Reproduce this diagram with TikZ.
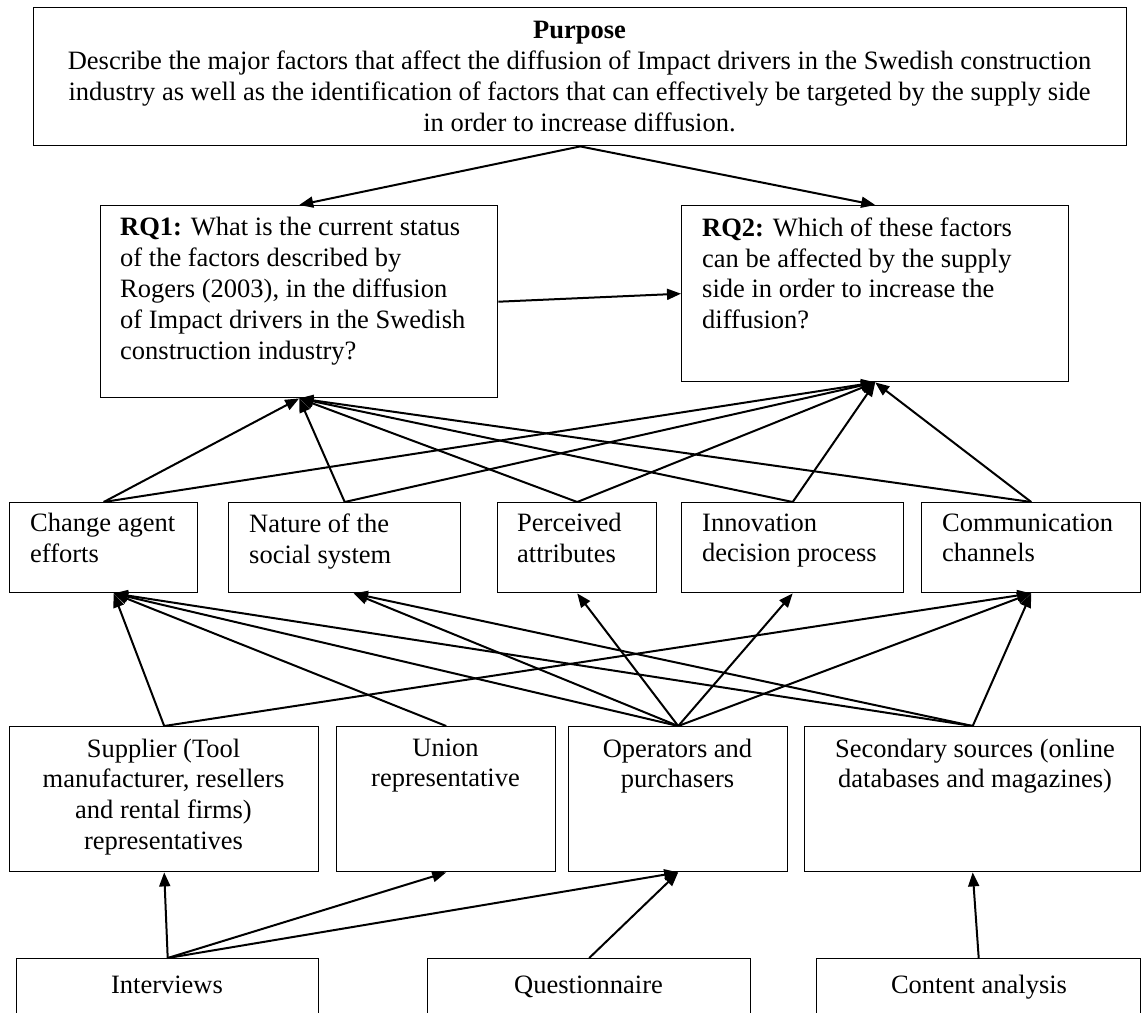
\documentclass[tikz,border=0pt]{standalone}
\usepackage{fontspec}
\setmainfont{Liberation Serif}
\usetikzlibrary{arrows.meta}
\begin{document}
\begin{tikzpicture}[x=1pt,y=-1pt,
  box/.style={draw, line width=1.4pt, inner sep=0pt, anchor=north west},
  conn/.style={line width=2pt, -{Triangle[length=14pt,width=11pt]}},
  txt/.style={inner sep=0pt, font=\fontsize{26.5}{30.8}\selectfont, execute at begin node=\strut},
  ltxt/.style={txt, anchor=north west, align=left},
  ctxt/.style={txt, anchor=north, align=center}]
\useasboundingbox (0,0) rectangle (1142,1012);
\clip (0,0) rectangle (1142,1012);
% boxes
\node[box, minimum width=1093pt, minimum height=138pt] (pur) at (33,7) {};
\node[box, minimum width=397pt, minimum height=192pt] (rq1) at (100,205) {};
\node[box, minimum width=387pt, minimum height=176pt] (rq2) at (681,205) {};
\node[box, minimum width=188pt, minimum height=90pt] (ca) at (9,502) {};
\node[box, minimum width=232pt, minimum height=90pt] (nat) at (228,502) {};
\node[box, minimum width=159pt, minimum height=90pt] (per) at (497,502) {};
\node[box, minimum width=222pt, minimum height=90pt] (inn) at (681,502) {};
\node[box, minimum width=219pt, minimum height=90pt] (com) at (921,502) {};
\node[box, minimum width=309pt, minimum height=145pt] (sup) at (9,726) {};
\node[box, minimum width=219pt, minimum height=145pt] (uni) at (336,726) {};
\node[box, minimum width=219pt, minimum height=145pt] (ope) at (568,726) {};
\node[box, minimum width=336pt, minimum height=145pt] (sec) at (804,726) {};
\node[box, minimum width=302pt, minimum height=80pt] (int) at (16,958) {};
\node[box, minimum width=323pt, minimum height=80pt] (que) at (427,958) {};
\node[box, minimum width=324pt, minimum height=80pt] (con) at (816,958) {};
% texts
\node[ctxt] (purt) at (579.5,21.4) {\textbf{Purpose}\\Describe the major factors that affect the diffusion of Impact drivers in the Swedish construction\\industry as well as the identification of factors that can effectively be targeted by the supply side\\in order to increase diffusion.};
\node[ltxt] (rq1t) at (120,217.4) {\textbf{RQ1:} What is the current status\\of the factors described by\\Rogers (2003), in the diffusion\\of Impact drivers in the Swedish\\construction industry?};
\node[ltxt] (rq2t) at (702,217.4) {\textbf{RQ2:} Which of these factors\\can be affected by the supply\\side in order to increase the\\diffusion?};
\node[ltxt] (cat) at (30,513.4) {Change agent\\efforts};
\node[ltxt] (natt) at (249,513.4) {Nature of the\\social system};
\node[ltxt] (pert) at (517,513.4) {Perceived\\attributes};
\node[ltxt] (innt) at (702,513.4) {Innovation\\decision process};
\node[ltxt] (comt) at (942,513.4) {Communication\\channels};
\node[ctxt] (supt) at (163.5,738.4) {Supplier (Tool\\manufacturer, resellers\\and rental firms)\\representatives};
\node[ctxt] (unit) at (445.5,738.4) {Union\\representative};
\node[ctxt] (opet) at (677.5,738.4) {Operators and\\purchasers};
\node[ctxt] (sect) at (975,738.4) {Secondary sources (online\\databases and magazines)};
\node[ctxt] (intt) at (167,971.4) {Interviews};
\node[ctxt] (quet) at (588.5,971.4) {Questionnaire};
\node[ctxt] (cont) at (979,971.4) {Content analysis};
% connectors
\draw[conn] (pur.south) -- (rq1.north);
\draw[conn] (pur.south) -- (rq2.north);
\draw[conn] (rq1.east) -- (rq2.west);
\foreach \m in {ca,nat,per,inn,com}{
  \draw[conn] (\m.north) -- (rq1.south);
  \draw[conn] (\m.north) -- (rq2.south);
}
\draw[conn] (sup.north) -- ([xshift=10pt]ca.south);
\draw[conn] (sup.north) -- (com.south);
\draw[conn] (uni.north) -- ([xshift=10pt]ca.south);
\draw[conn] (ope.north) -- ([xshift=10pt]ca.south);
\draw[conn] (ope.north) -- ([xshift=9pt]nat.south);
\draw[conn] (ope.north) -- (per.south);
\draw[conn] (ope.north) -- (inn.south);
\draw[conn] (ope.north) -- (com.south);
\draw[conn] (sec.north) -- ([xshift=10pt]ca.south);
\draw[conn] (sec.north) -- ([xshift=9pt]nat.south);
\draw[conn] (sec.north) -- (com.south);
\draw[conn] (int.north) -- (sup.south);
\draw[conn] (int.north) -- (uni.south);
\draw[conn] (int.north) -- (ope.south);
\draw[conn] (que.north) -- (ope.south);
\draw[conn] (con.north) -- (sec.south);
\end{tikzpicture}
\end{document}
